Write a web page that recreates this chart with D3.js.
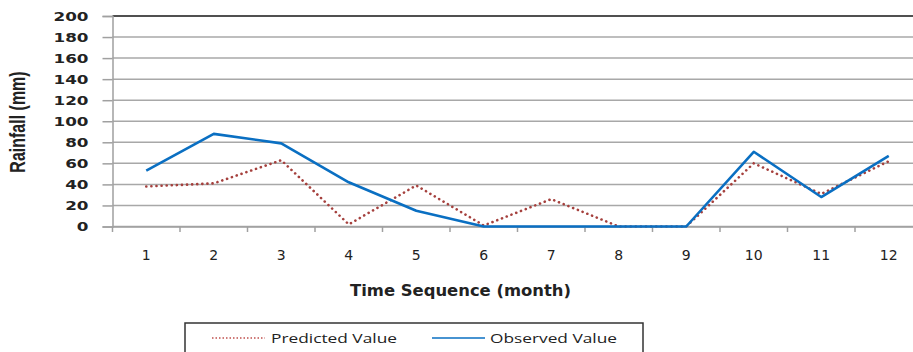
<!DOCTYPE html>
<html>
<head>
<meta charset="utf-8">
<script src="https://cdn.jsdelivr.net/npm/d3@7"></script>
<style>
  body { margin: 0; background: #fff; }
  svg { display: block; }
</style>
</head>
<body>
<script>
var width = 913, height = 352;

// months and rainfall (mm)
var months = ["1", "2", "3", "4", "5", "6", "7", "8", "9", "10", "11", "12"];
var predicted = [38, 41, 63, 2, 39, 1, 26, 0, 0, 60, 31, 62];
var observed = [53, 88, 79, 42, 15, 0, 0, 0, 0, 71, 28, 67];
var yTicks = [0, 20, 40, 60, 80, 100, 120, 140, 160, 180, 200];

var svg = d3.select("body")
    .append("svg")
    .attr("width", width)
    .attr("height", height);

var x = d3.scaleBand()
    .domain(months)
    .range([112.5, 922.5]);

var y = d3.scaleLinear()
    .domain([0, 200])
    .range([226.5, 16]);

// horizontal gridlines
svg.append("g")
   .selectAll("line")
   .data(yTicks)
   .enter()
   .append("line")
   .attr("x1", 112.5)
   .attr("x2", 922.5)
   .attr("y1", function(d) { return y(d); })
   .attr("y2", function(d) { return y(d); })
   .attr("stroke", function(d) { return d == 200 ? "#505050" : "#a8a8a8"; })
   .attr("stroke-width", function(d) { return d == 200 ? 2.2 : 1.5; });

// y axis
var yAxis = svg.append("g")
    .attr("transform", "translate(112.5,0)")
    .call(d3.axisLeft(y).tickValues(yTicks).tickSize(10).tickPadding(0));
yAxis.select(".domain").attr("stroke", "#a0a0a0").attr("stroke-width", 1.5);
yAxis.selectAll(".tick line").attr("stroke", "#a0a0a0").attr("stroke-width", 1.5);
yAxis.selectAll(".tick text")
     .attr("x", -24 / 1.4)
     .attr("dy", "0.36em")
     .attr("transform", "scale(1.4,1)")
     .attr("font-family", "DejaVu Sans")
     .attr("font-weight", "bold")
     .attr("font-size", "12px")
     .attr("fill", "#222");

// x axis
var xAxis = svg.append("g")
    .attr("transform", "translate(0,226.5)")
    .call(d3.axisBottom(x).tickSize(0).tickPadding(0));
xAxis.select(".domain").attr("stroke", "#a0a0a0").attr("stroke-width", 1.5);
xAxis.selectAll(".tick text")
     .attr("y", 33)
     .attr("dy", 0)
     .attr("font-family", "DejaVu Sans")
     .attr("font-size", "14px")
     .attr("fill", "#222");

// tick marks at band edges
svg.append("g")
   .selectAll("line")
   .data(months)
   .enter()
   .append("line")
   .attr("x1", function(d) { return x(d); })
   .attr("x2", function(d) { return x(d); })
   .attr("y1", 226.5)
   .attr("y2", 232)
   .attr("stroke", "#a0a0a0")
   .attr("stroke-width", 1.5);

var line = d3.line()
    .x(function(d, i) { return x(months[i]) + x.bandwidth() / 2; })
    .y(function(d) { return y(d); });

svg.append("path")
   .datum(predicted)
   .attr("d", line)
   .attr("fill", "none")
   .attr("stroke", "#a5403d")
   .attr("stroke-width", 2.6)
   .attr("stroke-dasharray", "0.1 5")
   .attr("stroke-linecap", "round");

svg.append("path")
   .datum(observed)
   .attr("d", line)
   .attr("fill", "none")
   .attr("stroke", "#0a6fc2")
   .attr("stroke-width", 2.6)
   .attr("stroke-linejoin", "round");

// axis titles
svg.append("text")
   .text("Rainfall (mm)")
   .attr("transform", "translate(25,122) scale(1.4,1) rotate(-90)")
   .attr("text-anchor", "middle")
   .attr("font-family", "Liberation Sans")
   .attr("font-weight", "bold")
   .attr("font-size", "16px")
   .attr("fill", "#222");

svg.append("text")
   .text("Time Sequence (month)")
   .attr("x", 350)
   .attr("y", 296)
   .attr("textLength", 221)
   .attr("lengthAdjust", "spacingAndGlyphs")
   .attr("font-family", "DejaVu Sans")
   .attr("font-weight", "bold")
   .attr("font-size", "15px")
   .attr("fill", "#222");

// legend
svg.append("rect")
   .attr("x", 185)
   .attr("y", 323)
   .attr("width", 458)
   .attr("height", 40)
   .attr("fill", "none")
   .attr("stroke", "#333")
   .attr("stroke-width", 1.5);

var legend = [
  { name: "Predicted Value", color: "#c0504d", dash: "1.5 2", lx: 212, tx: 271, tw: 126 },
  { name: "Observed Value", color: "#0a6fc2", dash: null, lx: 432, tx: 490, tw: 127 }
];

svg.selectAll(".leg-line")
   .data(legend)
   .enter()
   .append("line")
   .attr("x1", function(d) { return d.lx; })
   .attr("x2", function(d) { return d.lx + 53; })
   .attr("y1", 338)
   .attr("y2", 338)
   .attr("stroke", function(d) { return d.color; })
   .attr("stroke-width", 1.3)
   .attr("stroke-dasharray", function(d) { return d.dash; });

svg.selectAll(".leg-text")
   .data(legend)
   .enter()
   .append("text")
   .text(function(d) { return d.name; })
   .attr("x", function(d) { return d.tx; })
   .attr("y", 343)
   .attr("textLength", function(d) { return d.tw; })
   .attr("lengthAdjust", "spacingAndGlyphs")
   .attr("font-family", "Open Sans")
   .attr("font-size", "13px")
   .attr("fill", "#222");
</script>
</body>
</html>
